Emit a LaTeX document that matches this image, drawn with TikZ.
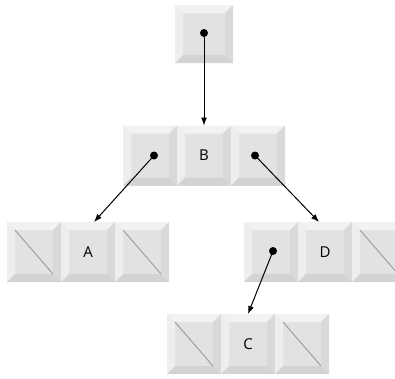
\documentclass[tikz,border=0pt]{standalone}
\usepackage{fontspec}
\newfontfamily\labelfont{Open Sans}
\usetikzlibrary{arrows.meta}
\definecolor{bevtop}{HTML}{F2F2F2}
\definecolor{bevleft}{HTML}{EEEEEE}
\definecolor{facec}{HTML}{E2E2E2}
\definecolor{bevright}{HTML}{D9D9D9}
\definecolor{bevbottom}{HTML}{D3D3D3}
\definecolor{diagc}{HTML}{A0A0A0}
\newcommand{\bv}{8pt}
\newcommand{\mybevels}{%
  \fill[bevtop] (path picture bounding box.north west) -- (path picture bounding box.north east)
    -- ([shift={(-\bv,-\bv)}]path picture bounding box.north east)
    -- ([shift={(\bv,-\bv)}]path picture bounding box.north west) -- cycle;
  \fill[bevleft] (path picture bounding box.north west)
    -- ([shift={(\bv,-\bv)}]path picture bounding box.north west)
    -- ([shift={(\bv,\bv)}]path picture bounding box.south west)
    -- (path picture bounding box.south west) -- cycle;
  \fill[bevright] (path picture bounding box.north east) -- (path picture bounding box.south east)
    -- ([shift={(-\bv,\bv)}]path picture bounding box.south east)
    -- ([shift={(-\bv,-\bv)}]path picture bounding box.north east) -- cycle;
  \fill[bevbottom] (path picture bounding box.south west) -- (path picture bounding box.south east)
    -- ([shift={(-\bv,\bv)}]path picture bounding box.south east)
    -- ([shift={(\bv,\bv)}]path picture bounding box.south west) -- cycle;
}
\newcommand{\mydiag}{%
  \draw[diagc, line width=1pt] ([shift={(\bv,-\bv)}]path picture bounding box.north west)
    -- ([shift={(-\bv,\bv)}]path picture bounding box.south east);
}
\tikzset{
  cellbox/.style={minimum width=54pt, minimum height=60pt, inner sep=0pt, outer sep=0pt,
    fill=facec, font=\labelfont\fontsize{15}{18}\selectfont, path picture={\mybevels}},
  nullbox/.style={cellbox, path picture={\mybevels\mydiag}},
  topbox/.style={cellbox, minimum width=58pt, minimum height=58pt},
  dotnode/.style={circle, fill=black, inner sep=0pt, minimum size=8pt},
  ptr/.style={line width=1pt, -{Latex[length=8pt,width=6pt]}}
}
\begin{document}
\begin{tikzpicture}[x=1pt, y=-1pt]
\useasboundingbox (0,0) rectangle (395,378);
\clip (0,0) rectangle (395,378);
% top
\node[topbox] (top) at (204,34) {};
% B row
\node[cellbox] (b1) at (150,155.5) {};
\node[cellbox] (b2) at (204,155.5) {B};
\node[cellbox] (b3) at (258,155.5) {};
% A row
\node[nullbox] (a1) at (34,252) {};
\node[cellbox] (a2) at (88,252) {A};
\node[nullbox] (a3) at (142,252) {};
% D row
\node[cellbox] (d1) at (271,252) {};
\node[cellbox] (d2) at (325,252) {D};
\node[nullbox] (d3) at (379,252) {};
% C row
\node[nullbox] (c1) at (194,344) {};
\node[cellbox] (c2) at (248,344) {C};
\node[nullbox] (c3) at (302,344) {};
% dots
\node[dotnode] (topp) at ([shift={(0pt,1pt)}]top) {};
\node[dotnode] (b1p) at ([shift={(4pt,0pt)}]b1) {};
\node[dotnode] (b3p) at ([shift={(-3pt,0pt)}]b3) {};
\node[dotnode] (d1p) at ([shift={(2pt,1pt)}]d1) {};
% pointers
\draw[ptr] (topp.center) -- (b2.north);
\draw[ptr] (b1p.center) -- ([xshift=6pt]a2.north);
\draw[ptr] (b3p.center) -- ([xshift=-6pt]d2.north);
\draw[ptr] (d1p.center) -- (c2.north);
\end{tikzpicture}
\end{document}
